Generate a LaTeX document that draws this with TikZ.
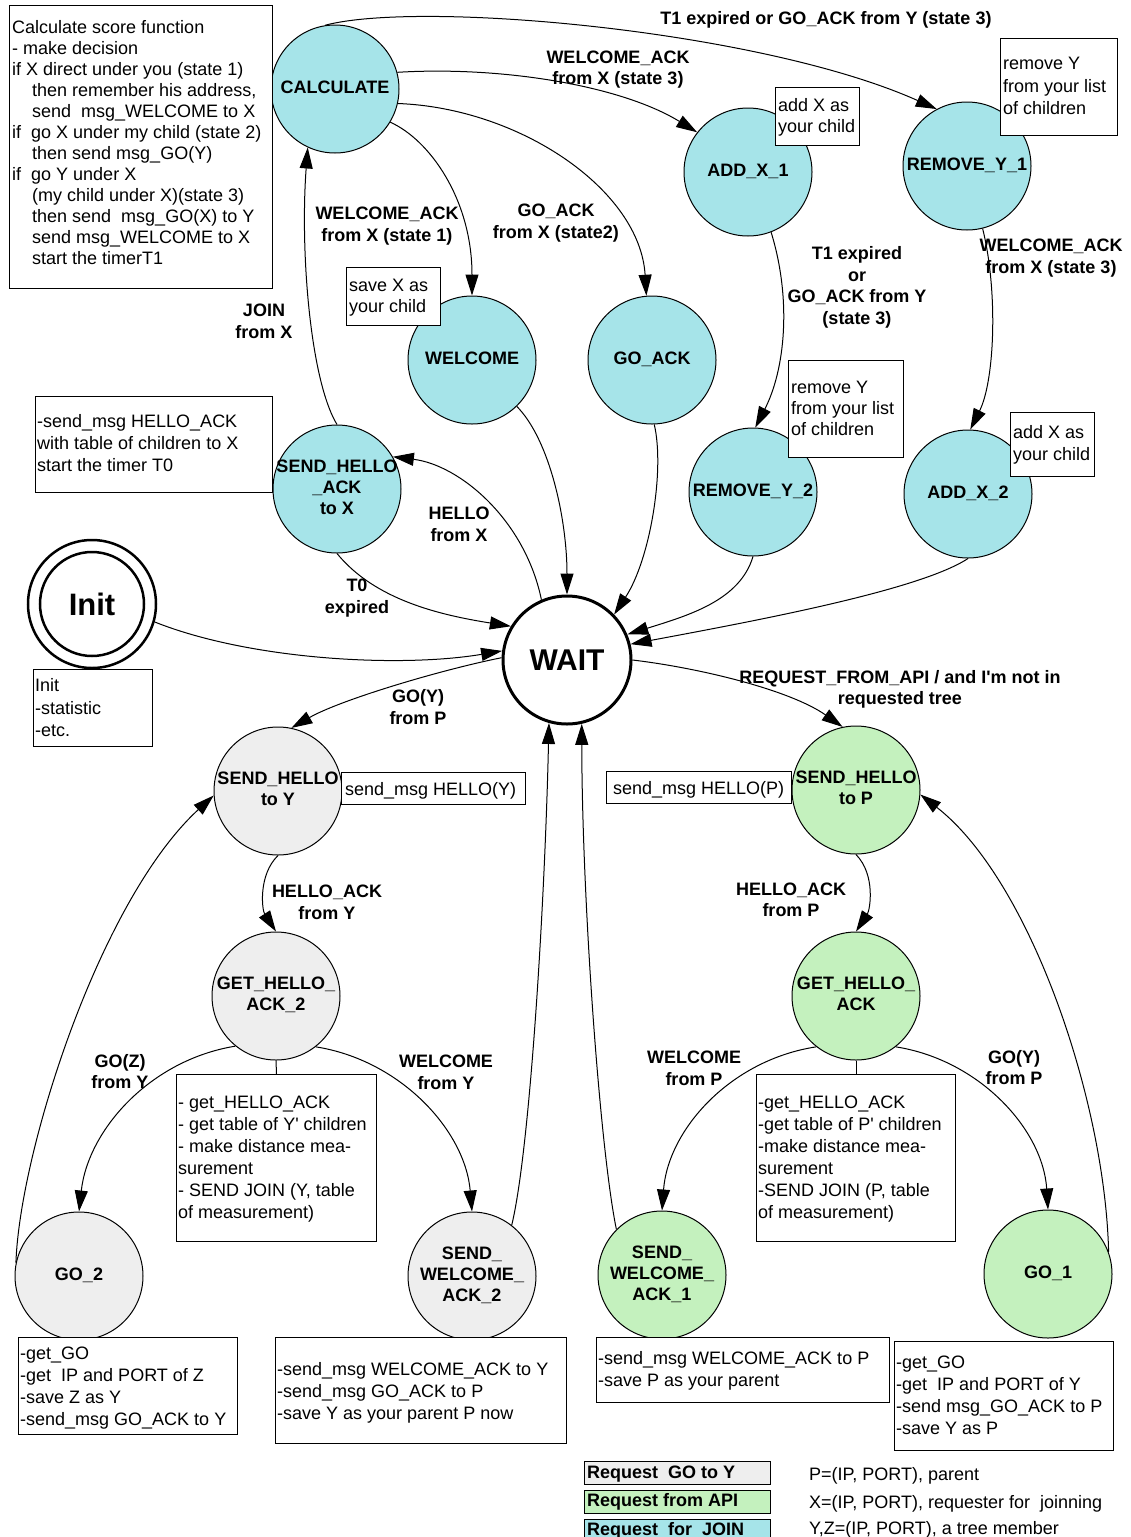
\documentclass[tikz,border=0pt]{standalone}
\usepackage{fontspec}
\setmainfont{Liberation Sans}
\usetikzlibrary{arrows.meta}

\definecolor{joinfill}{RGB}{166,228,233}
\definecolor{apifill}{RGB}{196,241,190}
\definecolor{gofill}{RGB}{238,238,238}

\newcommand{\sq}{\textquotesingle}

\begin{document}
\begin{tikzpicture}[x=1pt,y=-1pt,
  fsm/.style={circle, draw, line width=1pt, minimum size=128pt, inner sep=0pt},
  joinst/.style={fsm, fill=joinfill},
  apist/.style={fsm, fill=apifill},
  gost/.style={fsm, fill=gofill},
  stxt/.style={align=center, inner sep=0pt, font=\fontsize{18}{21}\selectfont\bfseries},
  note/.style={draw, line width=1pt, fill=white, inner sep=0pt, anchor=north west},
  txt/.style={anchor=north west, inner sep=0pt, align=left, font=\fontsize{18}{#1}\selectfont},
  txt/.default=22,
  btxt/.style={anchor=north west, inner sep=0pt, font=\fontsize{18}{21}\selectfont\bfseries},
  lbl/.style={align=center, inner sep=0pt, font=\fontsize{18}{21.5}\selectfont\bfseries},
  trans/.style={line width=1pt, -{Triangle[length=21pt,width=13pt]}},
]
\useasboundingbox (0,0) rectangle (1131,1537);

% ---------- states: JOIN handling (cyan) ----------
\node[joinst, label={[stxt]center:\strut CALCULATE}] (calc) at (335,89) {};
\node[joinst, label={[stxt]center:\strut ADD\_X\_1}] (addx1) at (748,172) {};
\node[joinst, label={[stxt]center:\strut REMOVE\_Y\_1}] (remy1) at (967,166) {};
\node[joinst, label={[stxt]center:\strut WELCOME}] (welcome) at (472,360) {};
\node[joinst, label={[stxt]center:\strut GO\_ACK}] (goack) at (652,360) {};
\node[joinst, label={[stxt]center:\strut REMOVE\_Y\_2}] (remy2) at (753,492) {};
\node[joinst, label={[stxt]center:\strut ADD\_X\_2}] (addx2) at (968,494) {};
\node[joinst, label={[stxt]center:{\strut SEND\_HELLO\\\strut\_ACK\\\strut to X}}] (sha) at (337,489) {};

% ---------- central states ----------
\node[fsm, line width=3pt, fill=white,
      label={[inner sep=0pt, font=\fontsize{30}{30}\selectfont\bfseries]center:WAIT}] (wait) at (567,660) {};
\node[fsm, line width=2.5pt, fill=white,
      label={[inner sep=0pt, font=\fontsize{31}{31}\selectfont\bfseries]center:Init}] (init) at (92,604) {};
\draw[line width=2.5pt] (init.center) circle[radius=52pt];

% ---------- states: GO to Y (grey) ----------
\node[gost, label={[stxt]center:{\strut SEND\_HELLO\\\strut to Y}}] (shy) at (278,791) {};
\node[gost, label={[stxt]center:{\strut GET\_HELLO\_\\\strut ACK\_2}}] (gha2) at (276,996) {};
\node[gost, label={[stxt]center:\strut GO\_2}] (go2) at (79,1276) {};
\node[gost, label={[stxt]center:{\strut SEND\_\\\strut WELCOME\_\\\strut ACK\_2}}] (swa2) at (472,1276) {};

% ---------- states: request from API (green) ----------
\node[apist, label={[stxt]center:{\strut SEND\_HELLO\\\strut to P}}] (shp) at (856,790) {};
\node[apist, label={[stxt]center:{\strut GET\_HELLO\_\\\strut ACK}}] (gha) at (856,996) {};
\node[apist, label={[stxt]center:{\strut SEND\_\\\strut WELCOME\_\\\strut ACK\_1}}] (swa1) at (662,1275) {};
\node[apist, label={[stxt]center:\strut GO\_1}] (go1) at (1048,1274) {};

% ---------- transitions ----------
\draw[trans] (calc.99) .. controls (420,0) and (760,30) .. (remy1.118);
\draw[trans] (calc.15) .. controls (500,66) and (620,85) .. (addx1.142);
\draw[trans] (calc.-13) .. controls (520,108) and (640,190) .. (goack.95);
\draw[trans] (calc.-31) .. controls (430,140) and (472,200) .. (welcome.north);
\draw[trans] (addx1.-69) .. controls (792,300) and (785,370) .. (remy2.88);
\draw[trans] (remy1.-76) .. controls (998,290) and (995,380) .. (addx2.88);
\draw[trans] (welcome.-46) .. controls (550,440) and (567,520) .. (wait.north);
\draw[trans] (goack.-88) .. controls (665,470) and (650,560) .. (wait.44);
\draw[trans] (remy2.south) .. controls (740,600) and (690,615) .. (wait.23);
\draw[trans] (addx2.south) .. controls (920,590) and (760,620) .. (wait.14);
\draw[trans] (wait.113) .. controls (525,520) and (460,465) .. (sha.30);
\draw[trans] (sha.north) .. controls (310,380) and (300,250) .. (calc.-115);
\draw[trans] (sha.south) .. controls (375,600) and (440,615) .. (wait.149);
\draw[trans] (init.-16) .. controls (250,660) and (400,668) .. (wait.172);
\draw[trans] (wait.178) .. controls (440,670) and (340,700) .. (shy.78);
\draw[trans] (wait.east) .. controls (700,668) and (790,690) .. (shp.102);
\draw[trans] (shy.south) .. controls (258,875) and (262,910) .. (gha2.north);
\draw[trans] (shp.south) .. controls (876,875) and (870,910) .. (gha.north);
\draw[trans] (gha2.231) .. controls (150,1060) and (88,1130) .. (go2.north);
\draw[trans] (gha2.-52) .. controls (400,1060) and (465,1130) .. (swa2.north);
\draw[trans] (go2.168) .. controls (20,1150) and (100,900) .. (shy.184);
\draw[trans] (swa2.52) .. controls (530,1150) and (545,900) .. (wait.-106);
\draw[trans] (swa1.135) .. controls (600,1150) and (582,900) .. (wait.-77);
\draw[trans] (gha.232) .. controls (730,1060) and (668,1130) .. (swa1.north);
\draw[trans] (gha.-52) .. controls (980,1060) and (1043,1130) .. (go1.north);
\draw[trans] (go1.20) .. controls (1105,1100) and (1030,880) .. (shp.-4);

% ---------- action notes ----------
\node[note, minimum width=263pt, minimum height=283pt] (calcnote) at (9,5) {};
\node[txt=21] (calctxt) at (12,18.4) {\strut Calculate score function\\
- make decision\\
if X direct under you (state 1)\\
\hspace*{20pt}then remember his address,\\
\hspace*{20pt}send~ msg\_WELCOME to X\\
if~ go X under my child (state 2)\\
\hspace*{20pt}then send msg\_GO(Y)\\
if~ go Y under X\\
\hspace*{20pt}(my child under X)(state 3)\\
\hspace*{20pt}then send~ msg\_GO(X) to Y\\
\hspace*{20pt}send msg\_WELCOME to X\\
\hspace*{20pt}start the timerT1};

\node[note, minimum width=84pt, minimum height=58pt] (addx1note) at (775,87) {};
\node[txt=21] (addx1txt) at (778,96.4) {\strut add X as\\your child};

\node[note, minimum width=117pt, minimum height=97pt] (remy1note) at (1000,38) {};
\node[txt=22.5] (remy1txt) at (1003,53.7) {\strut remove Y\\from your list\\of children};

\node[note, minimum width=94pt, minimum height=58pt] (savenote) at (346,267) {};
\node[txt=21] (savetxt) at (349,276.4) {\strut save X as\\your child};

\node[note, minimum width=115pt, minimum height=97pt] (remy2note) at (788,360) {};
\node[txt=21] (remy2txt) at (791,378.4) {\strut remove Y\\from your list\\of children};

\node[note, minimum width=84pt, minimum height=64pt] (addx2note) at (1010,412) {};
\node[txt] (addx2txt) at (1013,423) {\strut add X as\\your child};

\node[note, minimum width=237pt, minimum height=96pt] (shanote) at (35,396) {};
\node[txt] (shatxt) at (37,412) {\strut -send\_msg HELLO\_ACK\\with table of children to X\\start the timer T0};

\node[note, minimum width=119pt, minimum height=77pt] (initnote) at (33,669) {};
\node[txt=22.5] (inittxt) at (35,675.7) {\strut Init\\-statistic\\-etc.};

\node[note, minimum width=184pt, minimum height=32pt] (shynote) at (341,772) {};
\node[txt] (shytxt) at (345,779.4) {\strut send\_msg HELLO(Y)};

\node[note, minimum width=185pt, minimum height=32pt] (shpnote) at (606,771) {};
\node[txt] (shptxt) at (613,778.4) {\strut send\_msg HELLO(P)};

\node[note, minimum width=200pt, minimum height=167pt] (gha2note) at (176,1074) {};
\node[txt] (gha2txt) at (178,1093) {\strut - get\_HELLO\_ACK\\- get table of Y\sq{} children\\- make distance mea-\\surement\\- SEND JOIN (Y, table\\of measurement)};
\draw[line width=1pt] (gha2.south) -- (gha2note.north);

\node[note, minimum width=199pt, minimum height=167pt] (ghanote) at (756,1074) {};
\node[txt] (ghatxt) at (758,1093) {\strut -get\_HELLO\_ACK\\-get table of P\sq{} children\\-make distance mea-\\surement\\-SEND JOIN (P, table\\of measurement)};
\draw[line width=1pt] (gha.south) -- (ghanote.north);

\node[note, minimum width=219pt, minimum height=97pt] (go2note) at (18,1337) {};
\node[txt] (go2txt) at (20,1344) {\strut -get\_GO\\-get~ IP and PORT of Z\\-save Z as Y\\-send\_msg GO\_ACK to Y};

\node[note, minimum width=291pt, minimum height=106pt] (swa2note) at (275,1337) {};
\node[txt] (swa2txt) at (277,1359.5) {\strut -send\_msg WELCOME\_ACK to Y\\-send\_msg GO\_ACK to P\\-save Y as your parent P now};

\node[note, minimum width=293pt, minimum height=65pt] (swa1note) at (596,1337) {};
\node[txt] (swa1txt) at (598,1349) {\strut -send\_msg WELCOME\_ACK to P\\-save P as your parent};

\node[note, minimum width=219pt, minimum height=109pt] (go1note) at (894,1341) {};
\node[txt] (go1txt) at (896,1353) {\strut -get\_GO\\-get~ IP and PORT of Y\\-send msg\_GO\_ACK to P\\-save Y as P};

% ---------- transition labels ----------
\node[lbl] (l1) at (826,20) {\strut T1 expired or GO\_ACK from Y (state 3)};
\node[lbl] (l2) at (618,69.5) {\strut WELCOME\_ACK\\\strut from X (state 3)};
\node[lbl] (l3) at (387,226) {\strut WELCOME\_ACK\\\strut from X (state 1)};
\node[lbl] (l4) at (556,223) {\strut GO\_ACK\\\strut from X (state2)};
\node[lbl] (l5) at (857,287.5) {\strut T1 expired\\\strut or\\\strut GO\_ACK from Y\\\strut (state 3)};
\node[lbl] (l6) at (1051,258) {\strut WELCOME\_ACK\\\strut from X (state 3)};
\node[lbl] (l7) at (264,323) {\strut JOIN\\\strut from X};
\node[lbl] (l8) at (459,526) {\strut HELLO\\\strut from X};
\node[lbl] (l9) at (357,598) {\strut T0\\\strut expired};
\node[lbl] (l10) at (418,709) {\strut GO(Y)\\\strut from P};
\node[lbl] (l11) at (900,689.5) {\strut REQUEST\_FROM\_API / and I\sq m not in\\\strut requested tree};
\node[lbl] (l12) at (327,904) {\strut HELLO\_ACK\\\strut from Y};
\node[lbl] (l13) at (791,901.5) {\strut HELLO\_ACK\\\strut from P};
\node[lbl] (l14) at (120,1073.5) {\strut GO(Z)\\\strut from Y};
\node[lbl] (l15) at (446,1074) {\strut WELCOME\\\strut from Y};
\node[lbl] (l16) at (694,1070) {\strut WELCOME\\\strut from P};
\node[lbl] (l17) at (1014,1069.5) {\strut GO(Y)\\\strut from P};

% ---------- legend ----------
\node[note, fill=gofill, minimum width=186pt, minimum height=23pt] (leg1) at (584,1461) {};
\node[note, fill=apifill, minimum width=186pt, minimum height=23pt] (leg2) at (584,1490) {};
\node[note, fill=joinfill, minimum width=186pt, minimum height=23pt] (leg3) at (584,1519) {};
\node[btxt] (leg1txt) at (587,1463.4) {\strut Request~ GO to Y};
\node[btxt] (leg2txt) at (587,1491.4) {\strut Request from API};
\node[btxt] (leg3txt) at (587,1520.4) {\strut Request~ for~ JOIN};
\node[txt] (def1) at (809,1464.4) {\strut P=(IP, PORT), parent};
\node[txt] (def2) at (809,1492.4) {\strut X=(IP, PORT), requester for~ joinning};
\node[txt] (def3) at (809,1518.4) {\strut Y,Z=(IP, PORT), a tree member};
\end{tikzpicture}
\end{document}
